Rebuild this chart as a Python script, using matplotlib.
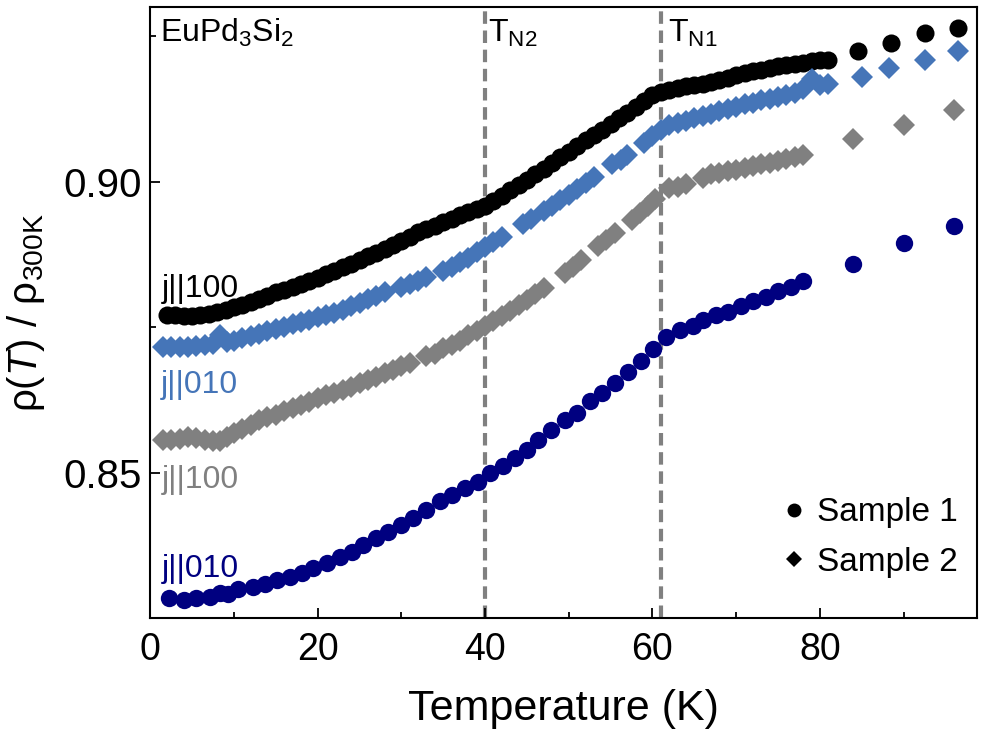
import matplotlib
matplotlib.use('Agg')
import matplotlib.pyplot as plt
from matplotlib.lines import Line2D

plt.rcParams['font.family'] = ['Liberation Sans', 'DejaVu Sans']
plt.rcParams['mathtext.fontset'] = 'custom'
plt.rcParams['mathtext.rm'] = 'Liberation Sans'
plt.rcParams['mathtext.it'] = 'Liberation Sans:italic'

# --- data ---
# Sample 1, j||100 (black circles)
t_s1_100 = [2, 3, 4, 5, 6, 7, 8, 9, 10, 11, 12, 13, 14, 15, 16, 17, 18, 19, 20,
            21, 22, 23, 24, 25, 26, 27, 28, 29, 30, 31, 32, 33, 34, 35, 36, 37, 38, 39, 40,
            41, 42, 43, 44, 45, 46, 47, 48, 49, 50, 51, 52, 53, 54, 55, 56, 57, 58, 59, 60,
            61, 62, 63, 64, 65, 66, 67, 68, 69, 70, 71, 72, 73, 74, 75, 76, 77, 78, 79, 80, 81,
            84.5, 88.5, 92.5, 96.5]
r_s1_100 = [0.8772, 0.8771, 0.8770, 0.8770, 0.8771, 0.8773, 0.8776, 0.8780, 0.8785, 0.8789,
            0.8794, 0.8799, 0.8804, 0.8810, 0.8815, 0.8820, 0.8825, 0.8830, 0.8835,
            0.8841, 0.8847, 0.8853, 0.8859, 0.8865, 0.8872, 0.8878, 0.8885, 0.8892, 0.8899,
            0.8906, 0.8913, 0.8919, 0.8925, 0.8931, 0.8937, 0.8943, 0.8948, 0.8953, 0.8959,
            0.8967, 0.8976, 0.8986, 0.8995, 0.9004, 0.9013, 0.9022, 0.9032, 0.9042, 0.9052,
            0.9062, 0.9072, 0.9081, 0.9090, 0.9099, 0.9109, 0.9119, 0.9129, 0.9139, 0.9149,
            0.9155, 0.9158, 0.9161, 0.9164, 0.9166, 0.9169, 0.9172, 0.9175, 0.9179, 0.9183,
            0.9187, 0.9190, 0.9193, 0.9196, 0.9199, 0.9201, 0.9203, 0.9205, 0.9207, 0.9209, 0.9210,
            0.9225, 0.9239, 0.9255, 0.9265]

# Sample 2, j||010 (blue diamonds)
t_s2_010 = [1.5, 2.5, 3.5, 4.5, 5.5, 6.5, 7.5, 8.3, 9.2, 10, 11, 12, 13, 14, 15, 16, 17, 18,
            19, 20, 21, 22, 23, 24, 25, 26, 27, 28, 30, 31, 32, 33, 35, 36, 37, 38, 39,
            40, 41, 42, 44.5, 45.5, 47, 48, 49, 50, 51, 52, 53, 55.2, 56.2, 57, 59, 60,
            61, 62, 63, 64, 65, 66, 67, 68, 69, 70, 71, 72, 73, 74, 75, 76, 77, 78, 79, 80, 81,
            85, 88.3, 92.5, 96.5]
r_s2_010 = [0.8717, 0.8717, 0.8717, 0.8717, 0.8718, 0.8719, 0.8722, 0.8737, 0.8724, 0.8727,
            0.8731, 0.8735, 0.8739, 0.8743, 0.8747, 0.8751, 0.8755, 0.8759,
            0.8763, 0.8767, 0.8771, 0.8775, 0.8780, 0.8786, 0.8792, 0.8798, 0.8804, 0.8810,
            0.8820, 0.8825, 0.8830, 0.8836, 0.8847, 0.8854, 0.8862, 0.8870, 0.8879,
            0.8888, 0.8897, 0.8906, 0.8927, 0.8936, 0.8950, 0.8959, 0.8968, 0.8978,
            0.8988, 0.8998, 0.9008, 0.9030, 0.9038, 0.9046, 0.9066, 0.9078,
            0.9090, 0.9097, 0.9101, 0.9105, 0.9109, 0.9113, 0.9117, 0.9121, 0.9125, 0.9129,
            0.9133, 0.9136, 0.9140, 0.9143, 0.9146, 0.9150, 0.9153, 0.9160, 0.9177, 0.9167, 0.9169,
            0.9180, 0.9195, 0.9210, 0.9225]

# Sample 2, j||100 (grey diamonds)
t_s2_100 = [1.5, 2.5, 3.5, 4.5, 5.5, 6.5, 7.5, 8.3, 9.2, 10, 11, 12, 13, 14, 15, 16, 17, 18,
            19, 20, 21, 22, 23, 24, 25, 26, 27, 28, 29, 30, 31, 33, 34, 35, 36, 37, 38, 39,
            40, 41, 42, 43, 44, 45, 46, 47, 49.5, 50.5, 51.5, 53.5, 54.5, 55.5, 57.5, 58.5, 59.5,
            60.3, 62, 63, 64, 66, 67, 68, 69, 70, 71, 72, 73, 74, 75, 76, 77, 78,
            84, 90, 96]
r_s2_100 = [0.8557, 0.8557, 0.8558, 0.8561, 0.8559, 0.8557, 0.8555, 0.8554, 0.8562, 0.8568,
            0.8575, 0.8583, 0.8591, 0.8596, 0.8600, 0.8606, 0.8611, 0.8616,
            0.8622, 0.8628, 0.8633, 0.8637, 0.8643, 0.8648, 0.8654, 0.8660, 0.8665, 0.8671, 0.8677,
            0.8683, 0.8689, 0.8700, 0.8705, 0.8715, 0.8720, 0.8727, 0.8736, 0.8744,
            0.8752, 0.8761, 0.8770, 0.8778, 0.8788, 0.8797, 0.8807, 0.8817, 0.8843, 0.8854,
            0.8866, 0.8889, 0.8900, 0.8912, 0.8935, 0.8946, 0.8958,
            0.8970, 0.8989, 0.8992, 0.8997, 0.9006, 0.9013, 0.9015, 0.9018, 0.9021, 0.9024,
            0.9027, 0.9030, 0.9033, 0.9036, 0.9040, 0.9043, 0.9047,
            0.9073, 0.9097, 0.9123]

# Sample 1, j||010 (navy circles)
t_s1_010 = [2.2, 4.0, 5.5, 7.1, 8.3, 9.3, 10.5, 12.3, 13.7, 15.1, 16.7, 18.1, 19.5, 21.1,
            22.7, 24.1, 25.4, 27.0, 28.4, 30.0, 31.4, 33.0, 34.6, 36.0, 37.6, 39.2, 40.6,
            42.2, 43.6, 45.0, 46.3, 47.9, 49.5, 51.0, 52.5, 54.0, 55.5, 57.1, 58.6, 60.1,
            61.6, 63.3, 64.8, 66.0, 67.6, 69.0, 70.6, 72.0, 73.6, 75.0, 76.6, 78.0,
            84, 90, 96]
r_s1_010 = [0.8284, 0.8281, 0.8284, 0.8287, 0.8293, 0.8292, 0.8300, 0.8304, 0.8309, 0.8315,
            0.8321, 0.8327, 0.8336, 0.8345, 0.8355, 0.8364, 0.8376, 0.8388, 0.8399, 0.8410,
            0.8422, 0.8436, 0.8451, 0.8462, 0.8474, 0.8485, 0.8499, 0.8511, 0.8525, 0.8539,
            0.8557, 0.8574, 0.8591, 0.8603, 0.8623, 0.8637, 0.8655, 0.8674, 0.8693, 0.8713,
            0.8733, 0.8746, 0.8752, 0.8763, 0.8772, 0.8777, 0.8786, 0.8795, 0.8803, 0.8812,
            0.8820, 0.8829,
            0.8859, 0.8895, 0.8925]

t_n2 = 40
t_n1 = 61

col_black = '#000000'
col_blue = '#4575b8'
col_grey = '#808080'
col_navy = '#000080'

fig = plt.figure(figsize=(9.97, 7.31), dpi=100)
ax = fig.add_axes([0.1507, 0.1542, 0.8295, 0.8358])

ax.axvline(t_n2, color=col_grey, lw=3, dashes=(3, 1.6), zorder=1)
ax.axvline(t_n1, color=col_grey, lw=3, dashes=(3, 1.6), zorder=1)

ax.plot(t_s1_100, r_s1_100, 'o', color=col_black, ms=13, mew=0, zorder=3)
ax.plot(t_s2_010, r_s2_010, 'D', color=col_blue, ms=11, mew=0, zorder=3)
ax.plot(t_s2_100, r_s2_100, 'D', color=col_grey, ms=11, mew=0, zorder=3)
ax.plot(t_s1_010, r_s1_010, 'o', color=col_navy, ms=12.5, mew=0, zorder=3)

ax.set_xlim(0, 98.8)
ax.set_ylim(0.825, 0.930)
ax.set_xticks([0, 20, 40, 60, 80])
ax.set_xticks([10, 30, 50, 70, 90], minor=True)
ax.set_yticks([0.85, 0.90])
ax.set_yticklabels(['0.85', '0.90'])
ax.set_yticks([0.825, 0.875, 0.925], minor=True)
ax.tick_params(which='both', direction='in', width=1.3, top=False, right=False)
ax.tick_params(axis='x', labelsize=27, pad=10)
ax.tick_params(axis='y', labelsize=29, pad=6)
ax.tick_params(which='major', length=7)
ax.tick_params(which='minor', length=4.5)
for s in ax.spines.values():
    s.set_linewidth(1.5)

ax.set_xlabel('Temperature (K)', fontsize=31, labelpad=15)
ax.set_ylabel(r'ρ($\mathit{T}$) / ρ$_{\mathrm{300K}}$', fontsize=29, labelpad=12)

fs = 23
ax.text(1.2, 0.9240, r'EuPd$_3$Si$_2$', fontsize=fs, ha='left', va='baseline')
ax.text(40.3, 0.9240, r'T$_{\mathrm{N2}}$', fontsize=fs, ha='left', va='baseline')
ax.text(61.8, 0.9241, r'T$_{\mathrm{N1}}$', fontsize=fs, ha='left', va='baseline')
ax.text(1.4, 0.8803, 'j||100', fontsize=fs, color=col_black, ha='left', va='baseline')
ax.text(1.3, 0.8637, 'j||010', fontsize=fs, color=col_blue, ha='left', va='baseline')
ax.text(1.4, 0.8474, 'j||100', fontsize=fs, color=col_grey, ha='left', va='baseline')
ax.text(1.4, 0.8321, 'j||010', fontsize=fs, color=col_navy, ha='left', va='baseline')

handles = [Line2D([], [], ls='none', marker='o', color='black', ms=10, mew=0),
           Line2D([], [], ls='none', marker='D', color='black', ms=8.5, mew=0)]
ax.legend(handles, ['Sample 1', 'Sample 2'], loc='lower right', frameon=False,
          fontsize=24, handlelength=0.8, handletextpad=0.3, labelspacing=0.56,
          bbox_to_anchor=(1.013, 0.017))

fig.savefig('out.png', dpi=100)
